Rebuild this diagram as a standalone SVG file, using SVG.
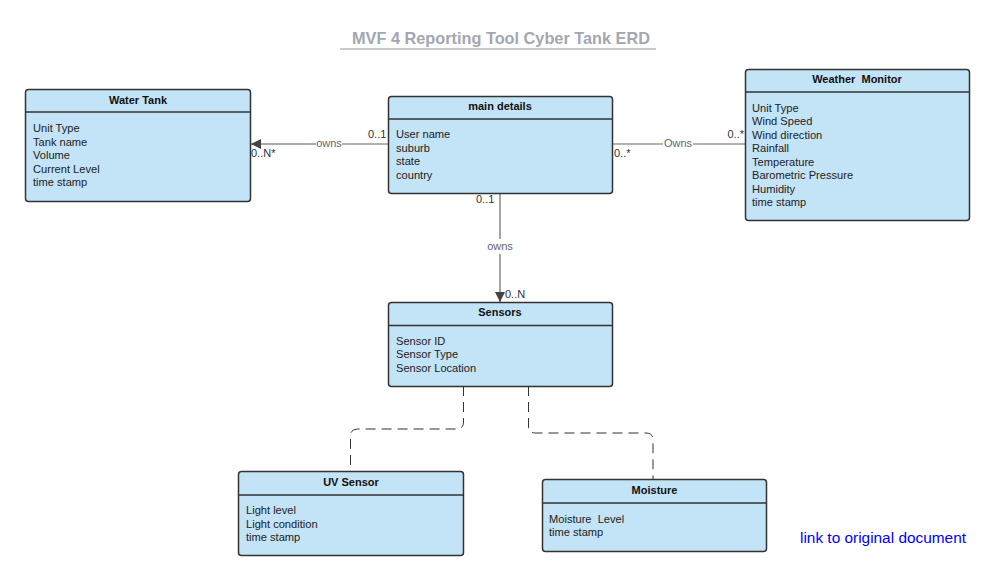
<svg xmlns="http://www.w3.org/2000/svg" width="993" height="580" viewBox="0 0 993 580">
<defs>
<style>
text{white-space:pre}
.box{fill:#c3e3f6;stroke:#333;stroke-width:1.5}
.div{stroke:#333;stroke-width:1.5}
.ttl{font-family:"Liberation Sans",Arial,sans-serif;font-size:11px;font-weight:bold;fill:#111;text-anchor:middle}
.att{font-family:"Liberation Sans",Arial,sans-serif;font-size:11.1px;fill:#222}
.lbl{font-family:"Liberation Sans",Arial,sans-serif;font-size:11px;fill:#333}
.cl{font-family:"Liberation Sans",Arial,sans-serif;font-size:11px;fill:#666}
.ln{stroke:#666;stroke-width:1.2;fill:none}
.dash{stroke:#333;stroke-width:1;fill:none;stroke-dasharray:10 6}
</style>
<marker id="arr" viewBox="0 0 10 10" refX="10" refY="5" markerWidth="10" markerHeight="10" markerUnits="userSpaceOnUse" orient="auto">
<path d="M0,0 L10,5 L0,10 z" fill="#444"/>
</marker>
</defs>
<rect width="993" height="580" fill="#fff"/>
<g id="title">
<text x="501" y="44" font-family="Liberation Sans, Arial, sans-serif" font-size="16.3" font-weight="bold" fill="#a3a7b0" text-anchor="middle">MVF 4 Reporting Tool Cyber Tank ERD</text>
<line x1="340" y1="49" x2="656" y2="49" stroke="#b4b8c0" stroke-width="1.5"/>
</g>
<g id="connectors">
<line class="ln" x1="388" y1="144" x2="342" y2="144"/>
<line x1="316" y1="144" x2="251" y2="144" stroke="#aaa" stroke-width="2" marker-end="url(#arr)"/>
<text class="cl" x="329" y="147" text-anchor="middle">owns</text>
<text class="lbl" x="368" y="138">0..1</text>
<text class="lbl" x="251" y="157">0..N*</text>
<line class="ln" x1="613" y1="144" x2="663" y2="144"/>
<line class="ln" x1="693" y1="144" x2="745" y2="144"/>
<text class="cl" x="678" y="147" text-anchor="middle">Owns</text>
<text class="lbl" x="744" y="138" text-anchor="end">0..*</text>
<text class="lbl" x="614" y="157">0..*</text>
<line class="ln" x1="500" y1="193" x2="500" y2="239"/>
<line class="ln" x1="500" y1="254" x2="500" y2="302" marker-end="url(#arr)"/>
<text class="cl" x="500" y="250" text-anchor="middle">owns</text>
<text class="lbl" x="476" y="203">0..1</text>
<text class="lbl" x="505" y="298">0..N</text>
<path class="dash" d="M463.5,386 V422 Q463.5,429 456.5,429 H357.5 Q350.5,429 350.5,436 V471"/>
<path class="dash" d="M528.5,386 V426 Q528.5,433 535.5,433 H646 Q653,433 653,440 V479"/>
</g>
<g id="water-tank">
<rect class="box" x="25.5" y="89.5" width="225" height="112" rx="3"/>
<line class="div" x1="25.5" y1="112" x2="250.5" y2="112"/>
<text class="ttl" x="138" y="104">Water Tank</text>
<text class="att" x="33" y="132">Unit Type</text>
<text class="att" x="33" y="146">Tank name</text>
<text class="att" x="33" y="159">Volume</text>
<text class="att" x="33" y="173">Current Level</text>
<text class="att" x="33" y="186">time stamp</text>
</g>
<g id="main-details">
<rect class="box" x="388.5" y="96.5" width="224" height="97" rx="3"/>
<line class="div" x1="388.5" y1="119" x2="612.5" y2="119"/>
<text class="ttl" x="500" y="110">main details</text>
<text class="att" x="396" y="138">User name</text>
<text class="att" x="396" y="152">suburb</text>
<text class="att" x="396" y="165">state</text>
<text class="att" x="396" y="179">country</text>
</g>
<g id="weather-monitor">
<rect class="box" x="745.5" y="69.5" width="224" height="151" rx="3"/>
<line class="div" x1="745.5" y1="92" x2="969.5" y2="92"/>
<text class="ttl" x="857" y="83">Weather  Monitor</text>
<text class="att" x="752" y="112">Unit Type</text>
<text class="att" x="752" y="125">Wind Speed</text>
<text class="att" x="752" y="139">Wind direction</text>
<text class="att" x="752" y="152">Rainfall</text>
<text class="att" x="752" y="166">Temperature</text>
<text class="att" x="752" y="179">Barometric Pressure</text>
<text class="att" x="752" y="193">Humidity</text>
<text class="att" x="752" y="206">time stamp</text>
</g>
<g id="sensors">
<rect class="box" x="388.5" y="302.5" width="224" height="84" rx="3"/>
<line class="div" x1="388.5" y1="325.5" x2="612.5" y2="325.5"/>
<text class="ttl" x="500" y="316">Sensors</text>
<text class="att" x="396" y="345">Sensor ID</text>
<text class="att" x="396" y="358">Sensor Type</text>
<text class="att" x="396" y="372">Sensor Location</text>
</g>
<g id="uv-sensor">
<rect class="box" x="238.5" y="471.5" width="225" height="84" rx="3"/>
<line class="div" x1="238.5" y1="495" x2="463.5" y2="495"/>
<text class="ttl" x="351" y="486">UV Sensor</text>
<text class="att" x="246" y="514">Light level</text>
<text class="att" x="246" y="528">Light condition</text>
<text class="att" x="246" y="541">time stamp</text>
</g>
<g id="moisture">
<rect class="box" x="542.5" y="479.5" width="224" height="72" rx="3"/>
<line class="div" x1="542.5" y1="503" x2="766.5" y2="503"/>
<text class="ttl" x="654.5" y="494">Moisture</text>
<text class="att" x="549" y="523">Moisture  Level</text>
<text class="att" x="549" y="536">time stamp</text>
</g>
<g id="link">
<text x="800" y="543" font-family="Liberation Sans, Arial, sans-serif" font-size="15.4" fill="#0000ff">link to original document</text>
</g>
</svg>
